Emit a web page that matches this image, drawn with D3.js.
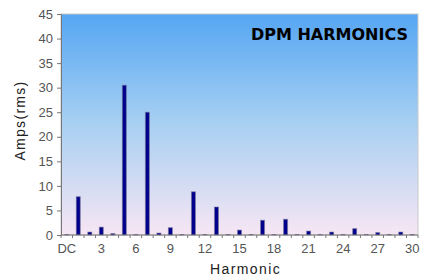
<!DOCTYPE html>
<html>
<head>
<meta charset="utf-8">
<script src="https://cdn.jsdelivr.net/npm/d3@7"></script>
<style>
  html, body { margin: 0; padding: 0; background: #fff; }
  svg { display: block; }
</style>
</head>
<body>
<div id="chart"></div>
<script>
const harmonics = ["DC", "1", "2", "3", "4", "5", "6", "7", "8", "9", "10",
  "11", "12", "13", "14", "15", "16", "17", "18", "19", "20",
  "21", "22", "23", "24", "25", "26", "27", "28", "29", "30"];
const amps = [0.1, 7.8, 0.6, 1.6, 0.3, 30.5, 0.1, 25.0, 0.4, 1.5, 0.1,
  8.8, 0.1, 5.7, 0.1, 1.0, 0.1, 3.0, 0.1, 3.2, 0.1,
  0.8, 0.1, 0.6, 0.1, 1.3, 0.1, 0.5, 0.1, 0.6, 0.1];
const xTickLabels = ["DC", "3", "6", "9", "12", "15", "18", "21", "24", "27", "30"];
const yTicks = [0, 5, 10, 15, 20, 25, 30, 35, 40, 45];

const W = 422, H = 277;
const margin = { top: 14, right: 4, bottom: 42, left: 61 };
const width = W - margin.left - margin.right;
const height = H - margin.top - margin.bottom;

const svg = d3.select("#chart").append("svg")
  .attr("width", W)
  .attr("height", H);

const defs = svg.append("defs");
const grad = defs.append("linearGradient")
  .attr("id", "bg")
  .attr("x1", 0).attr("y1", 0).attr("x2", 0).attr("y2", 1);
grad.append("stop").attr("offset", "0%").attr("stop-color", "#55a6f3");
grad.append("stop").attr("offset", "50%").attr("stop-color", "#a9d0f2");
grad.append("stop").attr("offset", "100%").attr("stop-color", "#f7e6f4");

const g = svg.append("g")
  .attr("transform", `translate(${margin.left},${margin.top})`);

const x = d3.scaleBand()
  .domain(harmonics)
  .range([0, width]);

const y = d3.scaleLinear()
  .domain([0, 45])
  .range([height, 0]);

// plot area
g.append("rect")
  .attr("width", width)
  .attr("height", height)
  .attr("fill", "url(#bg)")
  .attr("stroke", "#c8c8c8")
  .attr("stroke-width", 1);

// bars
const barW = 4;
g.selectAll(".bar")
  .data(harmonics)
  .join("rect")
  .attr("class", "bar")
  .attr("x", d => x(d) + x.bandwidth() / 2 - barW / 2)
  .attr("y", (d, i) => y(amps[i]))
  .attr("width", barW)
  .attr("height", (d, i) => height - y(amps[i]))
  .attr("fill", "#00008c")
  .attr("stroke", "rgba(120,120,150,0.55)")
  .attr("stroke-width", 1);

// y axis
const yAxis = g.append("g")
  .call(d3.axisLeft(y).tickValues(yTicks).tickSize(4).tickPadding(4));
yAxis.select(".domain").attr("stroke", "#777");
yAxis.selectAll(".tick line").attr("stroke", "#777");
yAxis.selectAll("text")
  .attr("fill", "#555")
  .style("font-family", "Liberation Sans, Arial, sans-serif")
  .style("font-size", "13px");

// x axis: ticks between categories, labels every 3rd
const xAxis = g.append("g")
  .attr("transform", `translate(0,${height})`);
xAxis.append("line")
  .attr("x1", 0).attr("x2", width)
  .attr("stroke", "#777");
xAxis.selectAll(".tk")
  .data(harmonics.concat(["end"]))
  .join("line")
  .attr("class", "tk")
  .attr("x1", (d, i) => i * x.step())
  .attr("x2", (d, i) => i * x.step())
  .attr("y1", 0).attr("y2", 3)
  .attr("stroke", "#777");
xAxis.selectAll(".lbl")
  .data(xTickLabels)
  .join("text")
  .attr("class", "lbl")
  .attr("x", d => x(d) + x.bandwidth() / 2)
  .attr("y", 18)
  .attr("text-anchor", "middle")
  .attr("fill", "#555")
  .style("font-family", "Liberation Sans, Arial, sans-serif")
  .style("font-size", "13px")
  .text(d => d);

// axis titles
svg.append("text")
  .attr("transform", `translate(25,${margin.top + height / 2 - 4}) rotate(-90)`)
  .attr("text-anchor", "middle")
  .attr("fill", "#222")
  .style("font-family", "Liberation Sans, Arial, sans-serif")
  .style("font-size", "14px")
  .style("letter-spacing", "1.3px")
  .text("Amps(rms)");

svg.append("text")
  .attr("x", margin.left + width / 2 + 6)
  .attr("y", H - 3)
  .attr("text-anchor", "middle")
  .attr("fill", "#222")
  .style("font-family", "Liberation Sans, Arial, sans-serif")
  .style("font-size", "14px")
  .style("letter-spacing", "1.4px")
  .text("Harmonic");

// chart title
svg.append("text")
  .attr("x", 408)
  .attr("y", 40)
  .attr("text-anchor", "end")
  .attr("fill", "#000")
  .style("font-family", "DejaVu Sans, Verdana, sans-serif")
  .style("font-weight", "bold")
  .style("font-size", "16px")
  .text("DPM HARMONICS");
</script>
</body>
</html>
